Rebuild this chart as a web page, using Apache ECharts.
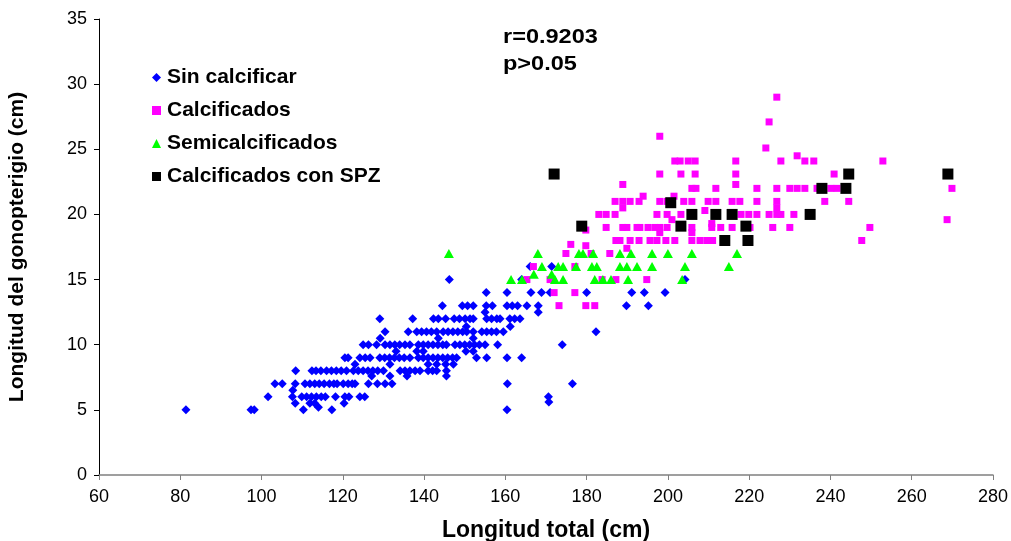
<!DOCTYPE html>
<html><head><meta charset="utf-8">
<script src="https://cdn.jsdelivr.net/npm/echarts@6/dist/echarts.min.js"></script>
<style>html,body{margin:0;padding:0;background:#fff}#c{width:1011px;height:541px}</style>
</head><body><div id="c"></div>
<script>
// Tick settings
const xTicks = [60, 80, 100, 120, 140, 160, 180, 200, 220, 240, 260, 280];
const yTicks = [0, 5, 10, 15, 20, 25, 30, 35];
const seriesNames = ['Sin calcificar', 'Calcificados', 'Semicalcificados', 'Calcificados con SPZ'];
const annotations = ['r=0.9203', 'p>0.05'];

// Sin calcificar: rows of [y, x-values]
const sinRows = [
  [5, [81.4, 97.4, 98.2, 110.3, 117.3, 160.4]],
  [5.2, [114.0]],
  [5.5, [108.3, 111.9, 113.1, 120.3]],
  [5.6, [170.7]],
  [6, [101.6, 107.6, 109.9, 111.1, 112.3, 113.5, 114.7, 115.7, 118.2, 120.5, 121.5, 124.2, 125.4, 170.6]],
  [6.5, [107.7]],
  [7, [103.3, 105.1, 108.3, 110.7, 111.9, 113.1, 114.2, 115.4, 116.7, 117.8, 118.6, 120.1, 121.3, 122.3, 123.0, 126.3, 128.5, 130.4, 132.1, 160.5, 176.5]],
  [7.6, [127.1, 131.6, 135.8, 145.5]],
  [8, [108.4, 112.4, 113.4, 114.6, 116.0, 117.2, 118.4, 119.6, 120.9, 122.6, 123.8, 125.0, 126.2, 127.4, 128.6, 130.0, 134.1, 135.3, 136.5, 137.8, 139.0, 141.0, 142.1, 143.1, 145.5]],
  [8.5, [123.0, 131.6, 141.0, 143.1, 145.3, 147.2]],
  [9, [120.5, 121.3, 124.2, 125.5, 126.7, 129.1, 130.3, 131.5, 132.7, 133.9, 135.1, 136.5, 138.6, 139.8, 141.0, 142.2, 143.4, 144.6, 145.8, 147.0, 148.0, 152.9, 155.4, 160.4, 164.0]],
  [9.5, [133.1, 138.2, 139.8, 150.3, 152.1]],
  [10, [125.0, 126.3, 128.3, 130.4, 131.6, 132.8, 134.0, 135.3, 136.5, 138.6, 139.8, 141.0, 142.2, 143.4, 144.6, 145.5, 147.6, 148.8, 150.0, 151.2, 152.4, 153.6, 155.0, 158.1, 174.0]],
  [10.5, [129.2, 143.5, 152.1]],
  [11, [130.4, 136.1, 138.2, 139.4, 140.6, 141.8, 143.1, 144.7, 145.9, 147.1, 148.3, 149.5, 150.5, 152.1, 154.2, 155.4, 156.6, 157.8, 159.5, 182.3]],
  [11.4, [150.4, 161.2]],
  [12, [129.1, 137.2, 142.3, 143.5, 145.3, 147.4, 148.7, 150.1, 151.3, 152.1, 155.4, 156.6, 157.9, 158.7, 161.1, 162.3, 163.6]],
  [12.5, [155.0, 168.1]],
  [13, [144.5, 149.4, 150.7, 152.1, 155.3, 156.8, 160.4, 161.7, 163.0, 165.3, 168.1, 189.8, 195.2]],
  [14, [155.3, 160.4, 166.3, 168.9, 171.0, 180.0, 191.1, 194.2, 199.3]],
  [15, [146.2, 164.0, 204.2]],
  [16, [166.1, 171.4]]
];

// Calcificados
const calRows = [
  [13, [173.2, 179.8, 182.0]],
  [14, [172.0, 177.1]],
  [15, [165.3, 171.0, 183.8, 187.2, 194.8]],
  [16, [166.9, 177.1]],
  [17, [174.9, 181.1, 185.7]],
  [17.4, [189.9]],
  [17.6, [179.8]],
  [17.7, [176.1]],
  [18, [187.2, 188.2, 190.7, 192.9, 195.6, 197.3, 199.5, 201.7, 205.9, 207.9, 209.6, 211.0, 247.7]],
  [18.6, [198.0, 205.9]],
  [18.8, [179.8]],
  [19, [184.8, 188.9, 189.9, 192.4, 193.1, 195.1, 196.8, 198.0, 199.8, 205.9, 210.8, 213.0, 215.8, 220.2, 225.8, 230.0, 249.7]],
  [19.3, [210.8]],
  [19.6, [201.0, 268.7]],
  [20, [183.0, 184.8, 187.0, 197.3, 199.8, 203.2, 218.0, 219.9, 221.9, 224.9, 226.8, 227.8, 231.0]],
  [20.3, [209.1]],
  [20.5, [188.9, 226.8]],
  [21, [187.0, 188.9, 190.7, 192.9, 198.0, 199.8, 203.9, 205.9, 209.9, 211.8, 215.8, 217.7, 221.9, 226.8, 238.6, 244.5]],
  [21.4, [193.9, 201.5]],
  [22, [205.9, 206.9, 211.8, 221.9, 226.8, 230.0, 231.8, 233.7, 236.7, 240.1, 241.6, 269.9]],
  [22.3, [188.9, 216.7]],
  [23.1, [198.0, 203.2, 206.7, 216.7, 240.9]],
  [24.1, [201.7, 203.0, 205.0, 206.7, 216.7, 227.8, 233.7, 235.9, 252.9]],
  [24.5, [231.8]],
  [25.1, [224.1]],
  [26, [198.0]],
  [27.1, [224.9]],
  [29, [226.8]]
];

// Semicalcificados
const semiRows = [
  [15, [161.4, 164.1, 172.2, 174.2, 182.0, 184.0, 186.0, 190.2, 203.5]],
  [15.4, [167.0, 171.4]],
  [16, [169.0, 173.0, 174.2, 177.4, 181.3, 182.5, 188.2, 189.9, 192.4, 196.1, 204.2, 215.0]],
  [17, [146.1, 168.0, 178.1, 179.1, 181.6, 188.2, 190.9, 196.1, 200.0, 205.9, 217.0]]
];

// Calcificados con SPZ
const spzX = [172.0, 178.8, 200.7, 203.2, 205.9, 211.8, 214.0, 215.8, 219.2, 219.7, 235.0, 237.9, 243.8, 244.5, 268.9];
const spzY = [23.1, 19.1, 20.9, 19.1, 20.0, 20.0, 18.0, 20.0, 19.1, 18.0, 20.0, 22.0, 22.0, 23.1, 23.1];

function rowsToPoints(rows) {
  const out = [];
  rows.forEach(([y, xs]) => xs.forEach(x => out.push([x, y])));
  return out;
}
const sinData = rowsToPoints(sinRows);
const calData = rowsToPoints(calRows);
const semiData = rowsToPoints(semiRows);
const spzData = spzX.map((x, i) => [x, spzY[i]]);

const baseFont = '"Liberation Sans", Arial, sans-serif';

const chart = echarts.init(document.getElementById('c'), null, {renderer: 'canvas'});
chart.setOption({
  animation: false,
  backgroundColor: '#fff',
  grid: {left: 99, right: 18, top: 19, bottom: 66, containLabel: false, outerBoundsMode: 'none'},
  xAxis: {
    type: 'value', min: xTicks[0], max: xTicks[xTicks.length - 1], interval: 20,
    name: 'Longitud total (cm)', nameLocation: 'middle', nameGap: 44,
    nameTextStyle: {fontFamily: baseFont, fontWeight: 'bold', fontSize: 23, color: '#000'},
    axisLine: {show: true, lineStyle: {color: '#808080', width: 1.5}},
    axisTick: {show: true, inside: false, length: 5, lineStyle: {color: '#808080', width: 1}},
    axisLabel: {fontFamily: baseFont, fontSize: 18, color: '#000', margin: 13},
    splitLine: {show: false}
  },
  yAxis: {
    type: 'value', min: yTicks[0], max: yTicks[yTicks.length - 1], interval: 5,
    name: 'Longitud del gonopterigio (cm)', nameLocation: 'middle', nameGap: 71,
    nameTextStyle: {fontFamily: baseFont, fontWeight: 'bold', fontSize: 21, color: '#000'},
    axisLine: {show: true, lineStyle: {color: '#000', width: 1}},
    axisTick: {show: true, inside: false, length: 5, lineStyle: {color: '#000', width: 1}},
    axisLabel: {fontFamily: baseFont, fontSize: 18, color: '#000', margin: 12},
    splitLine: {show: false}
  },
  legend: {
    orient: 'vertical', left: 147, top: 62, itemWidth: 9, itemHeight: 9, itemGap: 12,
    textStyle: {fontFamily: baseFont, fontWeight: 'bold', fontSize: 21, color: '#000', lineHeight: 21, padding: [0, 0, 0, 1]},
    data: [
      {name: seriesNames[0], icon: 'diamond', itemStyle: {color: '#0000ff'}},
      {name: seriesNames[1], icon: 'rect', itemStyle: {color: '#ff00ff'}},
      {name: seriesNames[2], icon: 'triangle', itemStyle: {color: '#00ff00'}},
      {name: seriesNames[3], icon: 'rect', itemStyle: {color: '#000000'}}
    ]
  },
  graphic: [
    {type: 'text', x: 503, y: 27, scaleX: 1.12, style: {text: annotations[0], font: 'bold 21px "Liberation Sans", Arial, sans-serif', fill: '#000'}},
    {type: 'text', x: 503, y: 54, scaleX: 1.12, style: {text: annotations[1], font: 'bold 21px "Liberation Sans", Arial, sans-serif', fill: '#000'}}
  ],
  series: [
    {name: seriesNames[0], type: 'scatter', symbol: 'diamond', symbolSize: [9, 9], data: sinData, itemStyle: {color: '#0000ff', opacity: 1}},
    {name: seriesNames[1], type: 'scatter', symbol: 'rect', symbolSize: [7, 7], data: calData, itemStyle: {color: '#ff00ff', opacity: 1}},
    {name: seriesNames[2], type: 'scatter', symbol: 'triangle', symbolSize: [10, 9], data: semiData, itemStyle: {color: '#00ff00', opacity: 1}},
    {name: seriesNames[3], type: 'scatter', symbol: 'rect', symbolSize: [11, 11], data: spzData, itemStyle: {color: '#000000', opacity: 1}}
  ]
});
</script></body></html>
